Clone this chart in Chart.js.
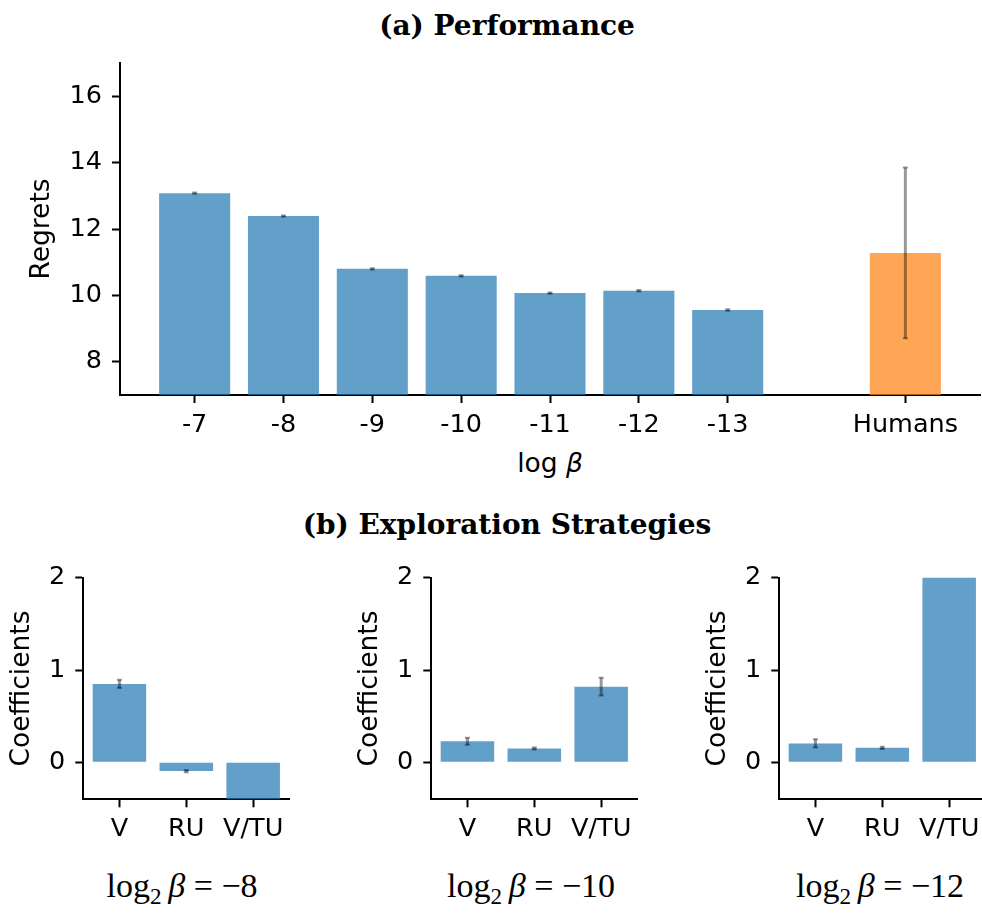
<!DOCTYPE html>
<html><head><meta charset="utf-8">
<script src="https://cdn.jsdelivr.net/npm/chart.js@4"></script>
<style>
html,body{margin:0;padding:0;width:982px;height:914px;overflow:hidden;background:#fff;}
canvas{position:absolute;}
.t{position:absolute;white-space:nowrap;transform:translate(-50%,-50%);color:#000;line-height:1;}
.title{font-family:"DejaVu Serif";font-weight:bold;font-size:28px;}
.math{font-family:"Liberation Serif";font-size:34px;}
.math sub{font-size:0.68em;vertical-align:-0.3em;line-height:0;}
.lab{font-family:"DejaVu Sans";font-size:26.5px;}
</style></head><body>
<div class="t title" style="left:507px;top:26px">(a) Performance</div>
<div class="t title" style="left:507px;top:525px">(b) Exploration Strategies</div>
<div class="t lab" style="left:550px;top:463px">log <i>β</i></div>
<div id="lb0" class="t math" style="left:182px;top:886px"></div>
<div id="lb1" class="t math" style="left:531px;top:886px"></div>
<div id="lb2" class="t math" style="left:880px;top:886px"></div>
<canvas id="cTop" width="982" height="480" style="left:0;top:0;width:982px;height:480px"></canvas>
<canvas id="c0" width="300" height="320" style="left:0px;top:540px;width:300px;height:320px"></canvas>
<canvas id="c1" width="300" height="320" style="left:347.7px;top:540px;width:300px;height:320px"></canvas>
<canvas id="c2" width="300" height="320" style="left:695.7px;top:540px;width:300px;height:320px"></canvas>
<script>
// ---- data ----
const perfCats = ['-7','-8','-9','-10','-11','-12','-13','','Humans'];
const perfMean = [13.08, 12.39, 10.80, 10.59, 10.07, 10.14, 9.56, null, 11.28];
const perfErr  = [0.02, 0.02, 0.02, 0.02, 0.02, 0.02, 0.02, null, 2.57];
const perfYTicks = [8, 10, 12, 14, 16];

const stratCats = ['V', 'RU', 'V/TU'];
const stratBetas = [-8, -10, -12];
const coefBeta8  = [0.85, -0.094, -0.60];
const errBeta8   = [0.045, 0.012, 0.03];
const coefBeta10 = [0.228, 0.15, 0.82];
const errBeta10  = [0.038, 0.012, 0.097];
const coefBeta12 = [0.205, 0.158, 2.30];
const errBeta12  = [0.045, 0.012, 0.03];
const coefYTicks = [0, 1, 2];

// ---- helpers ----
const TICKFONT = {family:'DejaVu Sans', size:25.5};
const LABFONT = {family:'DejaVu Sans', size:26.5};
const BLUE = 'rgba(31,119,180,0.7)';
const ORANGE = 'rgba(255,127,14,0.7)';

const errorBars = {
  id:'errorBars',
  afterDatasetsDraw(chart, args, opts){
    const {ctx, chartArea:a, scales:{x, y}} = chart;
    const pts = chart.data.datasets[0].data;
    const errs = opts.errors || [];
    ctx.save();
    ctx.beginPath(); ctx.rect(a.left, a.top, a.right-a.left, a.bottom-a.top); ctx.clip();
    ctx.strokeStyle = 'rgba(0,0,0,0.4)';
    pts.forEach((p, i) => {
      if (p.y == null || errs[i] == null) return;
      const px = x.getPixelForValue(p.x);
      const y1 = y.getPixelForValue(p.y - errs[i]);
      const y2 = y.getPixelForValue(p.y + errs[i]);
      ctx.lineWidth = 3;
      ctx.beginPath(); ctx.moveTo(px, y1); ctx.lineTo(px, y2); ctx.stroke();
      ctx.lineWidth = 2;
      ctx.beginPath();
      ctx.moveTo(px-2.5, y1); ctx.lineTo(px+2.5, y1);
      ctx.moveTo(px-2.5, y2); ctx.lineTo(px+2.5, y2);
      ctx.stroke();
    });
    ctx.restore();
  }
};

function axisCommon(){
  return {
    grid:{drawOnChartArea:false, drawTicks:true, tickLength:8, tickWidth:2, tickColor:'#000', offset:false},
    border:{display:true, color:'#000', width:2}
  };
}

function makeChart(id, cats, vals, errs, colorFn, yMin, yMax, yTicks, yTitle, geo){
  const data = cats.map((c, i) => ({x:i, y:vals[i]}));
  const tickIdx = cats.map((c, i) => c === '' ? null : i).filter(v => v !== null);
  return new Chart(document.getElementById(id), {
    type:'bar',
    data:{datasets:[{
      data,
      backgroundColor: ctx => colorFn(cats[ctx.dataIndex]),
      borderWidth:0,
      barPercentage:0.8,
      categoryPercentage:1.0
    }]},
    options:{
      responsive:false, animation:false,
      layout:{padding:{top:geo.top, right:geo.right, left:0, bottom:0}},
      plugins:{legend:{display:false}, tooltip:{enabled:false}, title:{display:false},
               errorBars:{errors:errs}},
      scales:{
        x:Object.assign(axisCommon(), {
          type:'linear', offset:false, min:-geo.xPad, max:(cats.length-1)+geo.xPad,
          afterFit(s){ s.height = geo.xH; },
          afterBuildTicks(s){ s.ticks = tickIdx.map(v => ({value:v})); },
          ticks:{font:TICKFONT, color:'#000', padding:7, autoSkip:false, maxRotation:0,
                 callback:v => cats[v]}
        }),
        y:Object.assign(axisCommon(), {
          type:'linear', min:yMin, max:yMax,
          afterFit(s){ s.width = geo.yW; },
          afterBuildTicks(s){ s.ticks = yTicks.map(v => ({value:v})); },
          ticks:{font:TICKFONT, color:'#000', padding:10, callback:v => String(v)},
          title:{display:true, text:yTitle, font:LABFONT, color:'#000', padding:{top:geo.tPad, bottom:0}}
        })
      }
    },
    plugins:[errorBars]
  });
}

// top chart
makeChart('cTop', perfCats, perfMean, perfErr,
  c => c === 'Humans' ? ORANGE : BLUE,
  7, 17, perfYTicks, 'Regrets',
  {top:63, right:2, xH:85, yW:120, tPad:26, xPad:0.84});

const coefSets = [coefBeta8, coefBeta10, coefBeta12];
const errSets = [errBeta8, errBeta10, errBeta12];
stratBetas.forEach((b, k) => {
  makeChart('c'+k, stratCats, coefSets[k], errSets[k], c => BLUE,
    -0.4, 2, coefYTicks, 'Coefficients',
    {top:37.7, right:10.7, xH:60.7, yW:83.3, tPad:6.3, xPad:0.54});
  document.getElementById('lb'+k).innerHTML =
    'log<sub>2</sub>\u2009<i>β</i> = \u2212' + Math.abs(b);
});
</script>
</body></html>
